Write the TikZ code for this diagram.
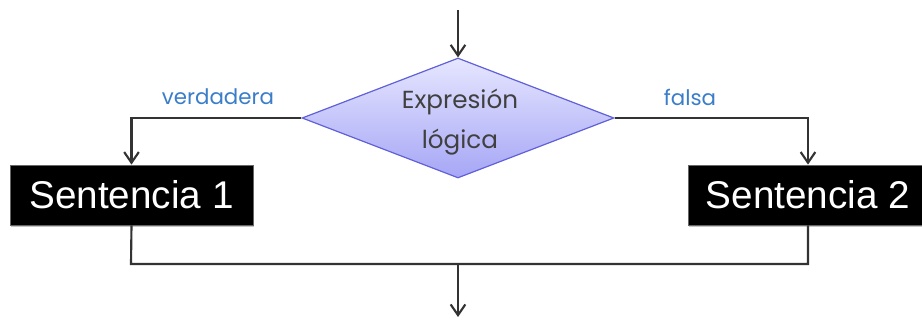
\documentclass[tikz,border=0pt]{standalone}
\usepackage{fontspec}
\setmainfont{Liberation Sans}
\newfontfamily\geo{Poppins}
\usetikzlibrary{arrows.meta,shapes.geometric,shadows}
\definecolor{lbl}{HTML}{3A7DC9}
\definecolor{dtop}{HTML}{E6E6FF}
\definecolor{dbot}{HTML}{A6A6F6}
\definecolor{dedge}{HTML}{6060D8}
\tikzset{
  conn/.style={draw=black!80, line width=1.6pt},
  arr/.style={conn, -{Straight Barb[length=8pt,width=11pt,line width=1.6pt]}},
  sbox/.style={fill=black, draw=black!60, line width=0.6pt, minimum width=243*0.75pt, minimum height=60*0.75pt,
     text=white, font=\fontsize{29}{30}\selectfont, inner sep=0pt,
     drop shadow={shadow xshift=1pt, shadow yshift=-1.5pt, fill=black!45}},
  cond/.style={diamond, shape aspect=2.62, minimum width=312*0.75pt, minimum height=120*0.75pt, inner sep=0pt,
     top color=dtop, bottom color=dbot, draw=dedge, line width=0.9pt,
     font=\geo\fontsize{18.5}{30}\selectfont, text=black!75, align=center},
  lab/.style={text=lbl, font=\geo\fontsize{16}{18}\selectfont}
}
\begin{document}
\begin{tikzpicture}[x=0.75pt,y=-0.75pt]
\useasboundingbox (0,0) rectangle (922,320);
\coordinate (top) at (458,10);
\node[cond] (d) at (458,118) {};
\node[text=black!75, font=\geo\fontsize{18.5}{30}\selectfont, align=center] (dt) at (460,122) {Expresión\\lógica};
\node[sbox] (s1) at (131.5,195) {Sentencia 1};
\node[sbox, minimum width=240*0.75pt] (s2) at (808,195) {Sentencia 2};
\coordinate (jl) at (131,264);
\coordinate (jr) at (808,264);
\coordinate (jm) at (458,264);
\coordinate (end) at (458,317);
\draw[arr] (top) -- (d.north);
\draw[arr] (d.west) -| (s1.north);
\draw[arr] (d.east) -| (s2.north);
\draw[conn] (s1.south) -- (jl) -- (jr) -- (s2.south);
\draw[arr] (jm) -- (end);
\node[lab] (v) at (218,97) {verdadera};
\node[lab] (f) at (690,97) {falsa};
\end{tikzpicture}
\end{document}
